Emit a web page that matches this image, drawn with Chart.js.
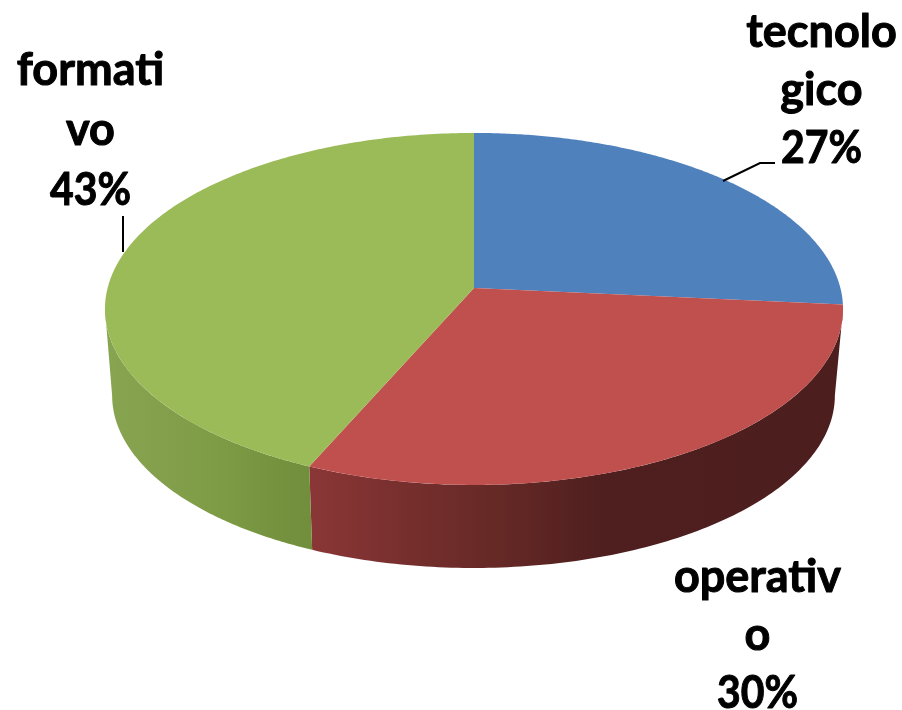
<!DOCTYPE html>
<html><head><meta charset="utf-8">
<style>html,body{margin:0;padding:0;background:#fff}#w{width:902px;height:710px;position:relative}</style>
<script src="https://cdn.jsdelivr.net/npm/chart.js@4"></script>
</head><body><div id="w"><canvas id="c" width="902" height="710"></canvas></div>
<script>
const categories = ['tecnologico','operativo','formativo'];
const values = [26.5, 30.06, 43.44];
const percentLabels = ['27%','30%','43%'];
const nameLines = [['tecnolo','gico'],['operativ','o'],['formati','vo']];
const topColors = ['#4f81bd','#c0504d','#9bbb59'];
const wallStops = [
  [],
  [[310,'#8a3636'],[420,'#742e2c'],[520,'#612724'],[600,'#4f1f1f'],[835,'#4d1e1e']],
  [[106,'#87a450'],[170,'#839f4b'],[230,'#7c9a44'],[312,'#708e3b']]
];
const labelCenters = [[821.5,47],[757.5,592],[90.5,85]];
const lineHeights = [58,58,60];
const leaders = [[[723,181],[760,163],[775,163]], null, [[123,252],[123,216]]];

const top3 = {cx:474, cy:288, A:366.4, B:173.5, k:0.119};
const bot3 = {cx:473.5, cy:375, A:358.8, B:170, k:0.119};
function proj(p,t){
  const u=Math.sin(t), v=-Math.cos(t), d=1-p.k*v;
  return [p.cx+p.A*u/d, p.cy+p.B*v/d];
}
const tangent = Math.acos(top3.k);
const pie3d = {
  id:'pie3d',
  beforeDatasetDraw(chart){
    const ctx=chart.ctx, arcs=chart.getDatasetMeta(0).data;
    const ang=a=>({s:a.startAngle+Math.PI/2,e:a.endAngle+Math.PI/2});
    arcs.forEach((a,i)=>{
      const r=ang(a), s=Math.max(r.s,Math.PI-tangent), e=Math.min(r.e,Math.PI+tangent);
      if(e<=s||!wallStops[i].length) return;
      const st=wallStops[i], x0=st[0][0], x1=st[st.length-1][0];
      const g=ctx.createLinearGradient(x0,0,x1,0);
      st.forEach(q=>g.addColorStop((q[0]-x0)/(x1-x0),q[1]));
      ctx.beginPath();
      const n=120;
      for(let j=0;j<=n;j++){const p=proj(top3,s+(e-s)*j/n); j?ctx.lineTo(p[0],p[1]):ctx.moveTo(p[0],p[1]);}
      for(let j=n;j>=0;j--){const p=proj(bot3,s+(e-s)*j/n); ctx.lineTo(p[0],p[1]);}
      ctx.closePath(); ctx.fillStyle=g; ctx.fill();
    });
    arcs.forEach((a,i)=>{
      const r=ang(a);
      ctx.beginPath(); ctx.moveTo(top3.cx,top3.cy);
      const n=200;
      for(let j=0;j<=n;j++){const p=proj(top3,r.s+(r.e-r.s)*j/n); ctx.lineTo(p[0],p[1]);}
      ctx.closePath(); ctx.fillStyle=a.options.backgroundColor; ctx.fill();
    });
    return false;
  },
  afterDraw(chart){
    const ctx=chart.ctx;
    ctx.save();
    ctx.strokeStyle='#000'; ctx.lineWidth=2;
    leaders.forEach(l=>{ if(!l) return; ctx.beginPath(); l.forEach((p,j)=>j?ctx.lineTo(p[0],p[1]):ctx.moveTo(p[0],p[1])); ctx.stroke(); });
    ctx.fillStyle='#000'; ctx.font='bold 45px Lato'; ctx.textAlign='center'; ctx.textBaseline='alphabetic';
    ctx.lineWidth=1; ctx.lineJoin='round';
    categories.forEach((c,i)=>{
      const [x,y]=labelCenters[i];
      nameLines[i].forEach((t,j)=>{
        ctx.fillText(t,x,y+j*lineHeights[i]); ctx.strokeText(t,x,y+j*lineHeights[i]);
      });
      const yp=y+2*lineHeights[i];
      ctx.fillText(percentLabels[i],x,yp,81); ctx.strokeText(percentLabels[i],x,yp,81);
    });
    ctx.restore();
  }
};
document.fonts.load('bold 45px Lato').finally(()=>{
new Chart(document.getElementById('c'),{
  type:'pie',
  data:{labels:categories,datasets:[{data:values,backgroundColor:topColors,borderWidth:0}]},
  options:{responsive:false,animation:false,plugins:{legend:{display:false},tooltip:{enabled:false}}},
  plugins:[pie3d]
});
});
</script></body></html>
